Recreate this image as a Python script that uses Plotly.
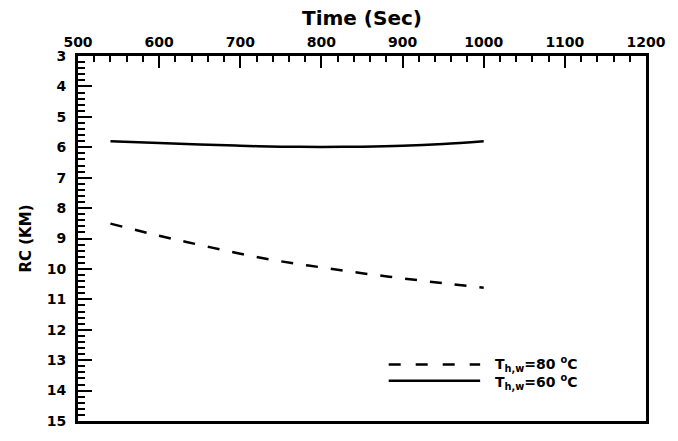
import plotly.graph_objects as go

# Data
time_sec = [540, 600, 650, 700, 750, 800, 850, 900, 950, 1000]
rc_60 = [5.80, 5.86, 5.91, 5.95, 5.98, 5.99, 5.98, 5.95, 5.89, 5.80]
rc_80 = [8.51, 8.91, 9.21, 9.50, 9.75, 9.95, 10.14, 10.31, 10.47, 10.62]
x_ticks = [500, 600, 700, 800, 900, 1000, 1100, 1200]
y_ticks = list(range(3, 16))
labels = ["T<sub>h,w</sub>=80 <sup>o</sup>C", "T<sub>h,w</sub>=60 <sup>o</sup>C"]

FONT = "DejaVu Sans, Verdana, sans-serif"

fig = go.Figure()
fig.add_trace(go.Scatter(x=time_sec, y=rc_60, mode="lines", line=dict(color="black", width=2.5, shape="spline"),
                         showlegend=False, name=labels[1]))
fig.add_trace(go.Scatter(x=time_sec, y=rc_80, mode="lines",
                         line=dict(color="black", width=2.5, dash="12px,13px", shape="spline"),
                         showlegend=False, name=labels[0]))

# manual legend (long sample lines as in the reference)
for yy, dash in [(0.155, "12px,15px"), (0.110, "solid")]:
    fig.add_shape(type="line", xref="paper", yref="paper", x0=0.547, x1=0.708, y0=yy, y1=yy,
                  line=dict(color="black", width=2.5, dash=dash))
fig.add_annotation(xref="paper", yref="paper", x=0.730, y=0.132, text="<br>".join(labels), showarrow=False,
                   xanchor="left", yanchor="middle", align="left",
                   font=dict(family=FONT, size=14, color="black", weight="bold"))

fig.update_layout(
    width=678, height=441,
    margin=dict(l=78, r=24, t=56, b=13),
    paper_bgcolor="white", plot_bgcolor="white",
    font=dict(family=FONT, color="black", weight="bold"),
)
fig.update_xaxes(
    range=[500, 1200], side="top", tickvals=x_ticks,
    ticks="inside", ticklen=12, tickwidth=2, tickcolor="black",
    minor=dict(dtick=20, ticks="inside", ticklen=6, tickwidth=1.5, tickcolor="black"),
    showline=True, linewidth=3, linecolor="black", mirror=True, showgrid=False, zeroline=False,
    tickfont=dict(family=FONT, size=14, color="black", weight="bold"),
    title=dict(text="Time (Sec)", font=dict(family=FONT, size=20, color="black", weight="bold"), standoff=4),
)
fig.update_yaxes(
    range=[15, 3], tickvals=y_ticks,
    ticks="inside", ticklen=14, tickwidth=2, tickcolor="black",
    minor=dict(dtick=0.2, ticks="inside", ticklen=7, tickwidth=1.5, tickcolor="black"),
    showline=True, linewidth=3, linecolor="black", mirror=True, showgrid=False, zeroline=False,
    tickfont=dict(family=FONT, size=14, color="black", weight="bold"),
    ticklabelstandoff=6,
    title=dict(text="RC (KM)", font=dict(family=FONT, size=15, color="black", weight="bold"), standoff=12),
)

fig.write_html("out.html")
